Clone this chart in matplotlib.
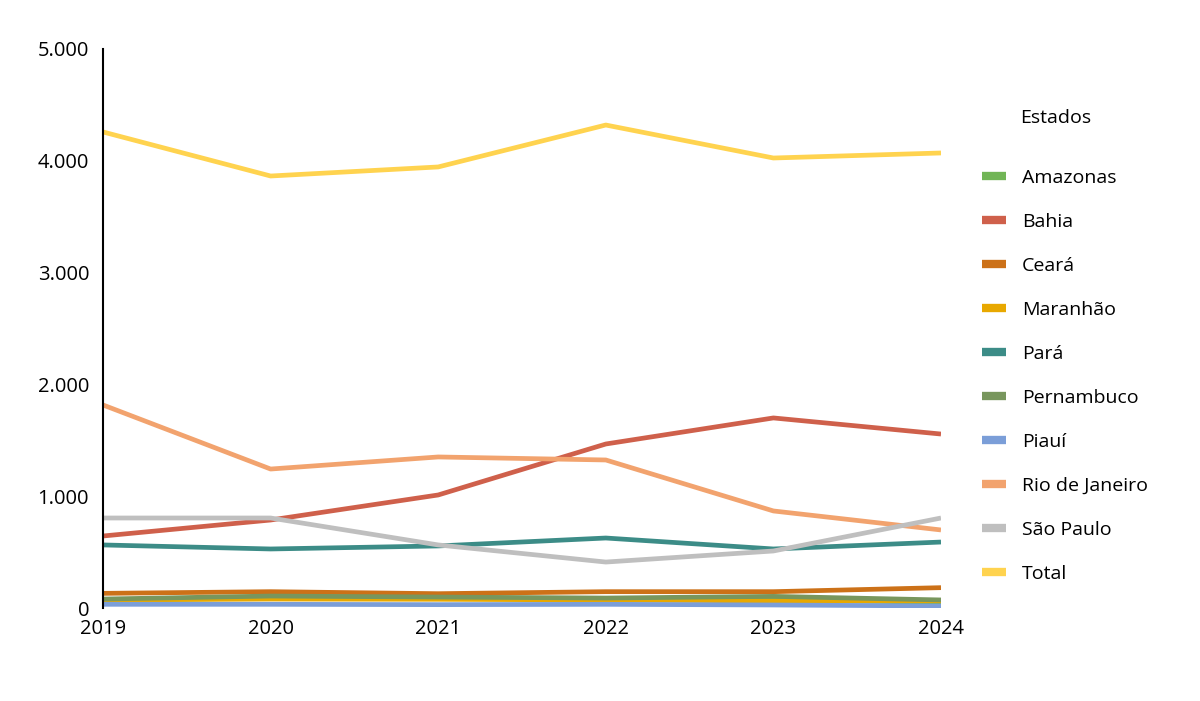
import matplotlib
matplotlib.use("Agg")
import matplotlib.pyplot as plt

years = [2019, 2020, 2021, 2022, 2023, 2024]
amazonas = [70, 90, 85, 80, 75, 50]
bahia = [644, 787, 1011, 1467, 1700, 1556]
ceara = [131, 146, 128, 146, 146, 182]
maranhao = [72, 80, 78, 72, 63, 65]
para = [564, 528, 555, 626, 528, 590]
pernambuco = [80, 107, 98, 89, 104, 72]
piaui = [33, 33, 30, 33, 27, 18]
rio = [1816, 1243, 1351, 1324, 868, 698]
sao_paulo = [805, 805, 564, 411, 510, 805]
total = [4258, 3864, 3945, 4320, 4025, 4070]

series_names = ["Amazonas", "Bahia", "Ceará", "Maranhão", "Pará", "Pernambuco",
                "Piauí", "Rio de Janeiro", "São Paulo", "Total"]
series_values = [amazonas, bahia, ceara, maranhao, para, pernambuco,
                 piaui, rio, sao_paulo, total]
colors = ["#71B556", "#CF604B", "#CC7118", "#E8A800", "#3C8C87", "#78965D",
          "#7B9ED8", "#F2A36E", "#BFBFBF", "#FFD34F"]
yticks = [0, 1000, 2000, 3000, 4000, 5000]
ytick_labels = ["0", "1.000", "2.000", "3.000", "4.000", "5.000"]

plt.rcParams['font.family'] = ['Open Sans', 'DejaVu Sans']
fig = plt.figure(figsize=(12, 7.01), dpi=100)
ax = fig.add_axes([103/1200, 1-608/701, (941-103)/1200, (608-49)/701])

lines = []
for name, vals, c in zip(series_names, series_values, colors):
    ln, = ax.plot(years, vals, color=c, lw=3.4, label=name, solid_capstyle='butt')
    lines.append(ln)

ax.set_xlim(2019, 2024)
ax.set_ylim(0, 5000)
ax.set_yticks(yticks)
ax.set_yticklabels(ytick_labels)
ax.set_xticks(years)
ax.set_xticklabels([str(y) for y in years])
for s in ["top", "right", "bottom"]:
    ax.spines[s].set_visible(False)
ax.spines["left"].set_linewidth(1.5)
ax.spines["left"].set_color("black")
ax.tick_params(axis='both', length=0, labelsize=14.5, colors='black')
ax.tick_params(axis='y', pad=10)
ax.tick_params(axis='x', pad=8)

fig.text(1020/1200, 1-118/701, "Estados", fontsize=14, va='center', ha='left')
leg = fig.legend(handles=lines, labels=series_names,
                 loc='upper left', bbox_to_anchor=(974/1200, 1-161/701),
                 frameon=False, fontsize=14,
                 handlelength=1.25, handletextpad=0.8, labelspacing=1.34,
                 borderaxespad=0)
for h in leg.get_lines():
    h.set_linewidth(6)

fig.savefig("out.png", dpi=100)
